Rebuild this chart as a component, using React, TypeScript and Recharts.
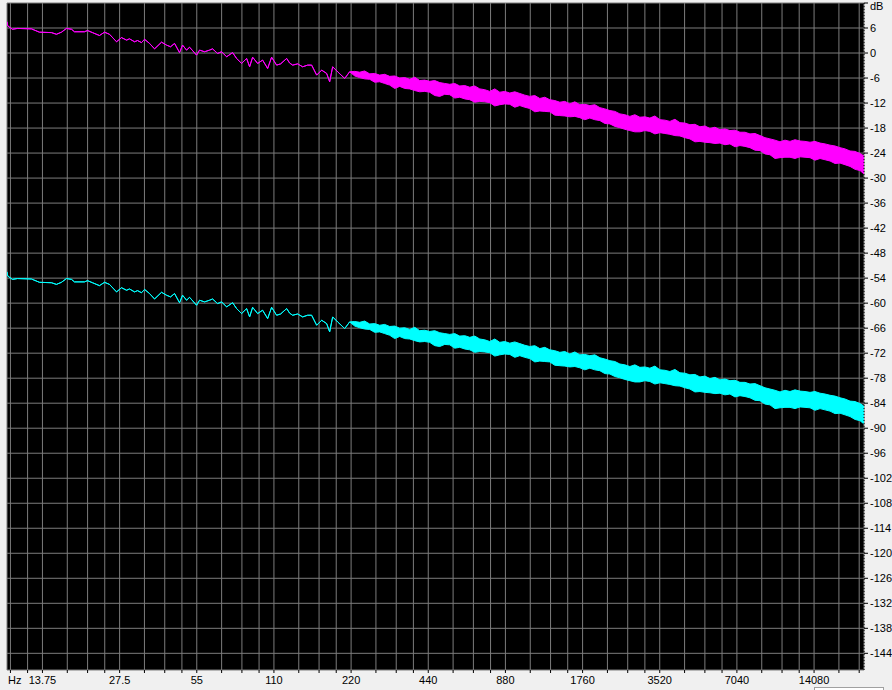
import { AreaChart, Area, XAxis, YAxis, CartesianGrid } from 'recharts';

// low end: single thin trace (Hz / dB)
const freqLow = [10, 10.07, 10.5, 10.98, 12.45, 13.38, 14.91, 15.59, 16.31, 17.06, 17.85, 18.33, 20.06, 20.61, 21.55, 22.95, 24.01, 25.11, 26.75, 27.97, 29.26, 30.06, 31.44, 32.3, 33.48, 34.4, 35.98, 37.64, 40.08, 41.92, 43.46, 45.05, 47.12, 48.41, 50.18, 51.55, 54.9, 56.4, 58.99, 61.7, 63.39, 66.31, 68.74, 71.9, 75.88, 78.66, 82.27, 86.06, 88.41, 90.83, 95.01, 99.37, 103.94, 107.74, 112.7, 116.8, 123.3, 126.68, 130.13, 136.12, 142.37, 148.9, 154.36, 161.47, 168.88, 176.65, 181.47, 186.44, 195.0, 207.7, 217.2];
const magLow = [7.5, 6.5, 5.7, 5.9, 5.8, 5.0, 4.9, 4.5, 5.0, 5.9, 5.7, 5.1, 5.1, 5.4, 4.9, 4.2, 5.0, 4.5, 2.7, 3.7, 3.1, 3.4, 2.7, 3.0, 2.5, 3.3, 2.3, 1.0, 2.6, 1.9, 1.5, 2.3, 0.1, 1.9, 0.7, 1.4, -0.5, 0.7, 0.3, 0.7, 1.0, -0.1, 0.3, -0.9, 0.1, -1.3, -2.5, -1.3, -3.3, -1.0, -2.5, -1.7, -3.7, -1.0, -2.9, -2.6, -1.3, -2.4, -2.9, -2.6, -3.3, -2.9, -2.9, -5.3, -4.1, -4.9, -6.9, -3.3, -4.5, -6.1, -4.5];
const cyanLow = [-52.5, -53.5, -54.3, -54.1, -54.2, -55.0, -55.1, -55.5, -55.0, -54.1, -54.3, -54.9, -54.9, -54.6, -55.1, -55.8, -55.0, -55.5, -57.3, -56.3, -56.9, -56.6, -57.3, -57.0, -57.5, -56.7, -57.7, -59.0, -57.4, -58.1, -58.5, -57.7, -59.9, -58.1, -59.3, -58.6, -60.5, -59.3, -59.7, -59.3, -59.0, -60.1, -59.7, -60.9, -59.9, -61.3, -62.5, -61.3, -63.3, -61.0, -62.5, -61.7, -63.7, -61.0, -62.9, -62.6, -61.3, -62.4, -62.9, -62.6, -63.3, -62.9, -62.9, -65.3, -64.1, -64.9, -66.9, -63.3, -64.5, -66.1, -64.5];

// upper end: noisy band, top and bottom edges
const freqBand = [227.2, 237.6, 248.5, 260.0, 271.9, 284.4, 297.5, 311.2, 325.5, 340.5, 356.1, 372.5, 389.6, 407.5, 426.3, 445.8, 466.3, 487.8, 510.2, 533.7, 558.2, 583.9, 610.7, 638.8, 668.2, 698.9, 731.0, 764.6, 799.8, 836.5, 875.0, 915.2, 957.3, 1001.3, 1047.3, 1095.5, 1145.9, 1198.5, 1253.6, 1311.2, 1371.6, 1434.6, 1500.6, 1569.5, 1641.7, 1717.1, 1796.1, 1878.6, 1965.0, 2055.4, 2149.9, 2248.7, 2352.1, 2460.2, 2573.3, 2691.6, 2815.4, 2944.8, 3080.2, 3221.8, 3369.9, 3524.8, 3686.9, 3856.4, 4033.7, 4219.1, 4413.1, 4616.0, 4828.2, 5050.2, 5282.4, 5525.3, 5779.3, 6045.0, 6322.9, 6613.6, 6917.7, 7235.7, 7568.4, 7916.4, 8280.3, 8661.0, 9059.2, 9475.7, 9911.4, 10367, 10844, 11342, 11864, 12409, 12980, 13576, 14200, 14853, 15536, 16250, 16997, 17779, 18597, 19451, 20346, 21281, 22050];
const magHi = [
  -4.4, -4.6, -4.3, -5.0, -4.9, -5.3, -5.1, -5.6, -5.5, -6.0,
  -5.9, -6.3, -5.8, -6.6, -6.5, -6.8, -6.6, -7.1, -7.3, -7.5,
  -7.3, -7.9, -7.8, -8.2, -7.9, -8.6, -8.8, -9.2, -8.6, -9.4,
  -9.2, -9.6, -9.3, -9.7, -10.1, -10.4, -10.2, -10.9, -10.6, -11.2,
  -11.4, -11.8, -11.6, -12.2, -11.7, -12.4, -12.3, -12.6, -12.4, -13.1,
  -13.4, -13.8, -14.0, -14.6, -14.8, -15.2, -14.8, -15.4, -15.3, -15.6,
  -15.1, -16.0, -16.1, -16.4, -15.9, -16.7, -16.8, -17.2, -17.1, -17.7,
  -17.5, -18.1, -17.8, -18.4, -18.2, -18.6, -18.5, -19.0, -19.0, -19.4,
  -19.3, -19.8, -20.3, -20.6, -20.9, -21.3, -20.9, -21.2, -20.8, -21.1,
  -21.2, -21.4, -21.2, -21.6, -21.8, -22.1, -22.3, -22.7, -23.0, -23.5,
  -23.6, -24.1, -24.7,
];
const magLo = [
  -5.5, -5.9, -6.2, -6.3, -7.0, -6.9, -7.3, -7.7, -8.5, -8.0,
  -8.5, -8.6, -9.0, -9.3, -9.2, -9.4, -10.2, -10.4, -9.9, -10.0,
  -10.8, -10.6, -11.0, -11.2, -11.8, -11.6, -11.7, -11.9, -12.7, -12.4,
  -12.2, -12.3, -13.0, -12.6, -13.0, -13.3, -14.1, -13.9, -14.0, -14.1,
  -14.9, -15.0, -15.1, -15.3, -15.2, -15.5, -16.0, -15.6, -16.0, -16.2,
  -16.9, -17.0, -17.6, -17.9, -18.3, -18.6, -18.9, -18.9, -18.6, -18.8,
  -19.4, -19.1, -19.3, -19.5, -19.8, -19.9, -20.3, -20.6, -21.3, -21.2,
  -21.4, -21.5, -21.7, -21.6, -22.0, -21.8, -22.5, -22.2, -22.4, -22.7,
  -23.3, -23.4, -24.2, -24.4, -25.3, -25.1, -25.0, -25.0, -25.3, -24.9,
  -25.0, -25.1, -25.7, -25.3, -25.6, -25.9, -26.5, -26.4, -26.8, -27.2,
  -27.9, -28.2, -29.0,
];
const cyanHi = [
  -64.4, -64.6, -64.3, -65.0, -64.9, -65.3, -65.1, -65.6, -65.5, -66.0,
  -65.9, -66.3, -65.8, -66.6, -66.5, -66.8, -66.6, -67.1, -67.3, -67.5,
  -67.3, -67.9, -67.8, -68.2, -67.9, -68.6, -68.8, -69.2, -68.6, -69.4,
  -69.2, -69.6, -69.3, -69.7, -70.1, -70.4, -70.2, -70.9, -70.6, -71.2,
  -71.4, -71.8, -71.6, -72.2, -71.7, -72.4, -72.3, -72.6, -72.4, -73.1,
  -73.4, -73.8, -74.0, -74.6, -74.8, -75.2, -74.8, -75.4, -75.3, -75.6,
  -75.1, -76.0, -76.1, -76.4, -75.9, -76.7, -76.8, -77.2, -77.1, -77.7,
  -77.5, -78.1, -77.8, -78.4, -78.2, -78.6, -78.5, -79.0, -79.0, -79.4,
  -79.3, -79.8, -80.3, -80.6, -80.9, -81.3, -80.9, -81.2, -80.8, -81.1,
  -81.2, -81.4, -81.2, -81.6, -81.8, -82.1, -82.3, -82.7, -83.0, -83.5,
  -83.6, -84.1, -84.7,
];
const cyanLo = [
  -65.5, -65.9, -66.2, -66.3, -67.0, -66.9, -67.3, -67.7, -68.5, -68.0,
  -68.5, -68.6, -69.0, -69.3, -69.2, -69.4, -70.2, -70.4, -69.9, -70.0,
  -70.8, -70.6, -71.0, -71.2, -71.8, -71.6, -71.7, -71.9, -72.7, -72.4,
  -72.2, -72.3, -73.0, -72.6, -73.0, -73.3, -74.1, -73.9, -74.0, -74.1,
  -74.9, -75.0, -75.1, -75.3, -75.2, -75.5, -76.0, -75.6, -76.0, -76.2,
  -76.9, -77.0, -77.6, -77.9, -78.3, -78.6, -78.9, -78.9, -78.6, -78.8,
  -79.4, -79.1, -79.3, -79.5, -79.8, -79.9, -80.3, -80.6, -81.3, -81.2,
  -81.4, -81.5, -81.7, -81.6, -82.0, -81.8, -82.5, -82.2, -82.4, -82.7,
  -83.3, -83.4, -84.2, -84.4, -85.3, -85.1, -85.0, -85.0, -85.3, -84.9,
  -85.0, -85.1, -85.7, -85.3, -85.6, -85.9, -86.5, -86.4, -86.8, -87.2,
  -87.9, -88.2, -89.0,
];

// axes
const freqTicks = [10.3125, 12.03125, 13.75, 17.1875, 20.625, 24.0625, 27.5, 34.375, 41.25, 48.125, 55, 68.75, 82.5, 96.25, 110, 137.5, 165, 192.5, 220, 275, 330, 385, 440, 550, 660, 770, 880, 1100, 1320, 1540, 1760, 2200, 2640, 3080, 3520, 4400, 5280, 6160, 7040, 8800, 10560, 12320, 14080, 17600, 21120];
const freqLabels = [13.75, 27.5, 55, 110, 220, 440, 880, 1760, 3520, 7040, 14080];
const dbTicks = [12, 6, 0, -6, -12, -18, -24, -30, -36, -42, -48, -54, -60, -66, -72, -78, -84, -90, -96, -102, -108, -114, -120, -126, -132, -138, -144];

const data = [
  ...freqLow.map((f, i) => ({ f, mag: [magLow[i], magLow[i]], cyan: [cyanLow[i], cyanLow[i]] })),
  ...freqBand.map((f, i) => ({ f, mag: [magLo[i], magHi[i]], cyan: [cyanLo[i], cyanHi[i]] })),
];

const font = '"Liberation Sans Narrow", "Liberation Sans", Arial, sans-serif';

function XTick(props: any) {
  const { x, y, payload } = props;
  const v = payload.value;
  if (v === freqTicks[0]) {
    return <text x={8} y={y + 8.5} fontSize={11} fontFamily={font} fill="#000">Hz</text>;
  }
  if (!freqLabels.includes(v)) return <g />;
  return (
    <text x={x} y={y + 8.5} textAnchor="middle" fontSize={11} fontFamily={font} fill="#000">
      {String(v)}
    </text>
  );
}

function YTick(props: any) {
  const { x, y, payload } = props;
  const v = payload.value;
  if (v === 12) {
    return <text x={x} y={y + 6.5} fontSize={11} fontFamily={font} fill="#000">dB</text>;
  }
  return (
    <text x={x} y={y + 4} fontSize={11} fontFamily={font} fill="#000">
      {String(v)}
    </text>
  );
}

export default function App() {
  return (
    <div style={{ position: 'absolute', left: 0, top: 0, width: 892, height: 690, background: '#f0f0f0', overflow: 'hidden' }}>
      <AreaChart width={892} height={690} data={data} margin={{ top: 3, right: 0, bottom: 0, left: 7 }}>
        <CartesianGrid stroke="#7c7c7c" fill="#000" fillOpacity={1} />
        <XAxis
          dataKey="f"
          type="number"
          scale="log"
          domain={[10, 22050]}
          allowDataOverflow
          ticks={freqTicks}
          interval={0}
          height={20}
          axisLine={false}
          tickSize={3}
          tickMargin={2}
          tickLine={{ stroke: '#000' }}
          tick={<XTick />}
        />
        <YAxis
          orientation="right"
          type="number"
          domain={[-148, 12]}
          allowDataOverflow
          ticks={dbTicks}
          interval={0}
          width={28}
          tickSize={4}
          tickMargin={2}
          axisLine={{ stroke: '#000', strokeDasharray: '1 2' }}
          tickLine={{ stroke: '#000' }}
          tick={<YTick />}
        />
        <Area
          dataKey="mag"
          type="linear"
          stroke="#ff00ff"
          strokeWidth={1}
          fill="#ff00ff"
          fillOpacity={1}
          dot={false}
          activeDot={false}
          isAnimationActive={false}
        />
        <Area
          dataKey="cyan"
          type="linear"
          stroke="#00ffff"
          strokeWidth={1}
          fill="#00ffff"
          fillOpacity={1}
          dot={false}
          activeDot={false}
          isAnimationActive={false}
        />
      </AreaChart>
      <div style={{ position: 'absolute', left: 814, top: 687, width: 68, height: 8, border: '1px solid #a0a0a0', background: '#fff' }} />
    </div>
  );
}
